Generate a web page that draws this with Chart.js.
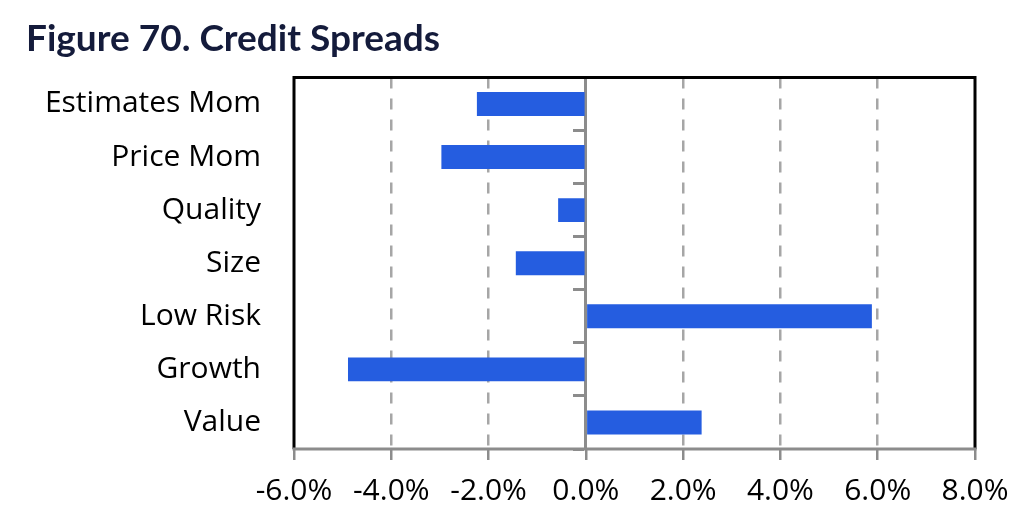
<!DOCTYPE html>
<html>
<head>
<meta charset="utf-8">
<script src="https://cdn.jsdelivr.net/npm/chart.js@4"></script>
<style>
html,body{margin:0;padding:0;background:#fff;}
#wrap{width:1015px;height:519px;position:relative;}
</style>
</head>
<body>
<div id="wrap"><canvas id="c" width="1015" height="519"></canvas></div>
<script>
const titleText = 'Figure 70. Credit Spreads';
const categories = ['Estimates Mom', 'Price Mom', 'Quality', 'Size', 'Low Risk', 'Growth', 'Value'];
const spreadValues = [-2.24, -2.97, -0.57, -1.44, 5.88, -4.89, 2.38];
const xTickValues = [-6, -4, -2, 0, 2, 4, 6, 8];

const frame = {
  id: 'frame',
  afterDraw(chart) {
    const {ctx, chartArea: a} = chart;
    ctx.save();
    ctx.lineCap = 'butt';
    ctx.strokeStyle = '#000';
    ctx.lineWidth = 3;
    ctx.beginPath();
    ctx.moveTo(a.left, a.bottom);
    ctx.lineTo(a.left, a.top);
    ctx.lineTo(a.right, a.top);
    ctx.lineTo(a.right, a.bottom);
    ctx.stroke();
    ctx.strokeStyle = '#8c8c8c';
    ctx.lineWidth = 3;
    ctx.beginPath();
    ctx.moveTo(a.left - 1.5, a.bottom);
    ctx.lineTo(a.right + 1.5, a.bottom);
    ctx.stroke();
    ctx.restore();
  }
};

new Chart(document.getElementById('c'), {
  type: 'bar',
  data: {
    labels: categories,
    datasets: [{
      data: spreadValues,
      backgroundColor: '#255DE0',
      borderWidth: 0,
      barPercentage: 0.45,
      categoryPercentage: 1.0
    }]
  },
  plugins: [frame],
  options: {
    indexAxis: 'y',
    responsive: false,
    animation: false,
    devicePixelRatio: 1,
    layout: {padding: {left: 26, right: 40, top: 0, bottom: 0}},
    plugins: {
      legend: {display: false},
      tooltip: {enabled: false},
      title: {
        display: true,
        text: titleText,
        align: 'start',
        color: '#141b3b',
        font: {family: 'Lato', size: 37, weight: 'bold'},
        padding: {top: 17, bottom: 16}
      }
    },
    scales: {
      x: {
        type: 'linear',
        min: -6, max: 8,
        afterBuildTicks(scale) { scale.ticks = xTickValues.map(v => ({value: v})); },
        afterFit(scale) { scale.height = 70; scale.paddingLeft = 0; scale.paddingRight = 0; },
        ticks: {
          color: '#000',
          font: {family: 'Open Sans', size: 30},
          padding: 13,
          callback: v => v.toFixed(1) + '%'
        },
        grid: {
          color: ctx => (ctx.tick && (ctx.tick.value === 0 || ctx.tick.value === -6 || ctx.tick.value === 8)) ? 'rgba(0,0,0,0)' : '#a6a6a6',
          lineWidth: 2.5,
          tickLength: 11,
          tickColor: '#8c8c8c',
          tickWidth: 2.5,
          tickBorderDash: []
        },
        border: {display: false, dash: [11, 10]}
      },
      y: {
        type: 'category',
        position: 'left',
        afterFit(scale) { scale.width = 268; scale.paddingTop = 0; scale.paddingBottom = 0; },
        ticks: {
          color: '#000',
          font: {family: 'Open Sans', size: 30},
          padding: 33
        },
        grid: {display: false, drawTicks: false},
        border: {display: false}
      },
      y2: {
        type: 'category',
        position: {x: 0},
        ticks: {display: false},
        grid: {
          drawOnChartArea: false,
          offset: true,
          tickLength: 11,
          tickColor: '#8c8c8c',
          tickWidth: 3,
          color: '#8c8c8c'
        },
        border: {display: true, color: '#8c8c8c', width: 3}
      }
    }
  }
});
</script>
</body>
</html>
